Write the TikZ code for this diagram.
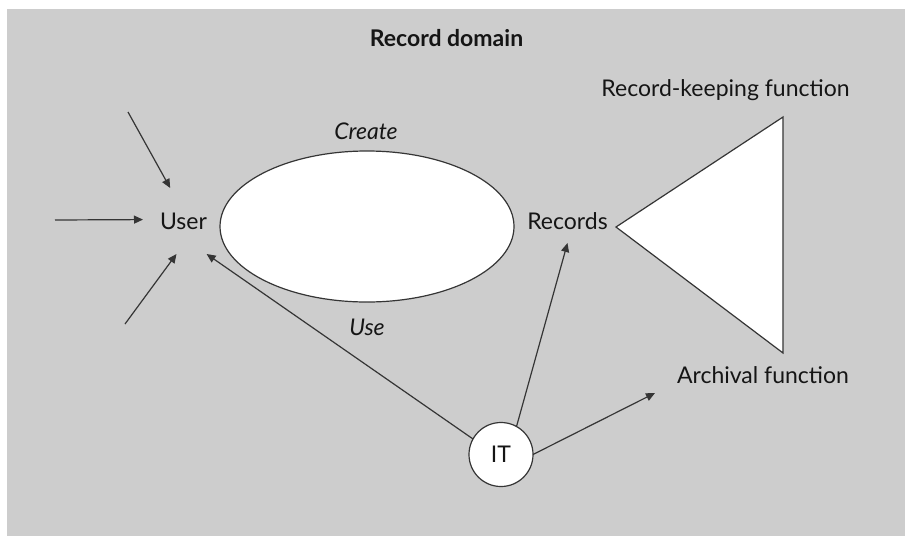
\documentclass[tikz,border=0pt]{standalone}
\usepackage{fontspec}
\setmainfont{Lato}
\usetikzlibrary{arrows.meta,shapes.geometric}
\definecolor{bg}{HTML}{CDCDCD}
\definecolor{ink}{HTML}{151515}
\definecolor{line}{HTML}{353535}
\newcommand{\lblsize}{\fontsize{23}{27}\selectfont}
\begin{document}
\begin{tikzpicture}[x=1pt,y=-1pt,
  txt/.style={font=\lblsize, text=ink, inner sep=0pt, outer sep=0pt},
  lbl/.style={txt, anchor=base},
  link/.style={draw=line, line width=1.2pt, -{Triangle[length=9pt,width=8pt]}},
  shapeline/.style={draw=line, line width=1.2pt, fill=white},
]
\useasboundingbox (0,0) rectangle (905,536);
\fill[bg] (7,9) rectangle (905,536);

% central cycle and the record-keeping / archival triangle
\node[shapeline, ellipse, minimum width=294pt, minimum height=151pt, inner sep=0pt] (cyc) at (367,226.5) {};
\draw[shapeline, line join=miter] (783,117) -- (616,227) -- (783,353) -- cycle;

% labels
\node[lbl, font=\lblsize\bfseries] (title) at (446.5,46) {Record domain};
\node[lbl] (rk) at (725.5,96) {Record-keeping function};
\node[lbl] (arch) at (763,383) {Archival function};
\node[lbl, font=\lblsize\itshape] (create) at (366,139) {Create};
\node[lbl, font=\lblsize\itshape] (use) at (367,335) {Use};

% actors
\node[txt, minimum width=81pt, minimum height=66pt] (user) at (183.5,221) {User};
\node[txt, minimum height=43pt] (rec) at (567.5,221.5) {Records};
\node[shapeline, txt, circle, minimum size=64pt] (it) at (501,454.5) {IT};

% loose ends of the incoming arrows
\coordinate (in1) at (128,112);
\coordinate (in2) at (55,220);
\coordinate (in3) at (125,324);
\coordinate (archin) at (655,393);

\draw[link] (in1) -- (user.112);
\draw[link] (in2) -- (user.178.6);
\draw[link] (in3) -- (user.258.5);
\draw[link] (it.151) -- (user.-55.3);
\draw[link] (it.61) -- (rec.south);
\draw[link] (it.east) -- (archin);
\end{tikzpicture}
\end{document}
